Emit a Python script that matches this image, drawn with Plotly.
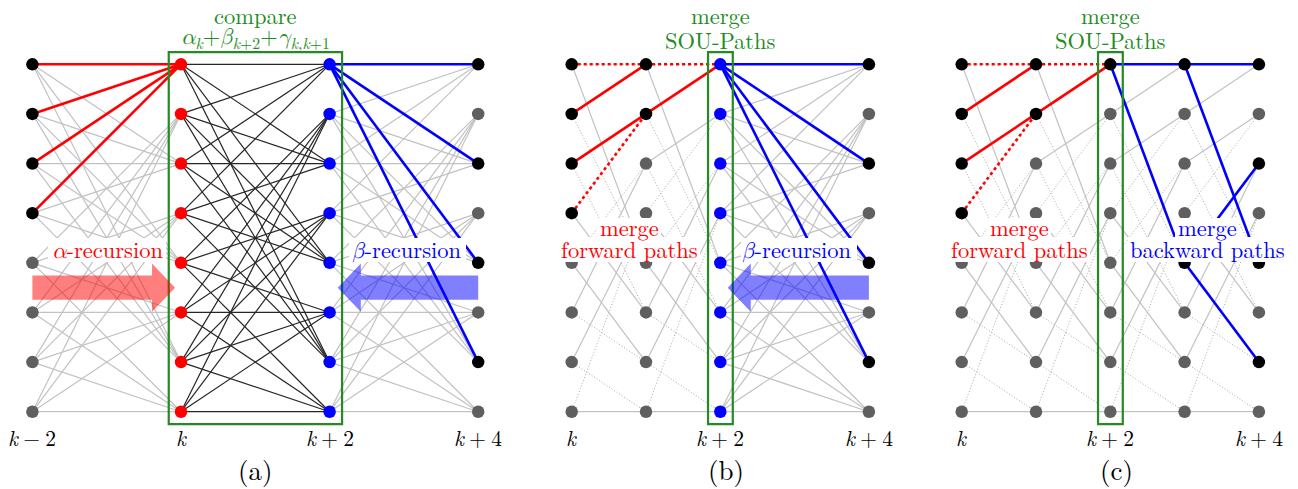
import plotly.graph_objects as go

# ---------------------------------------------------------------- data
STATES = list(range(8))
# 8-state recursive trellis: NEXT_STATE[s] = [next state for input 0, for input 1]
NEXT_STATE = [[0, 4], [4, 0], [5, 1], [1, 5], [2, 6], [6, 2], [7, 3], [3, 7]]

PANELS = ["a", "b", "c"]
COLUMNS = {"a": [-2, 0, 2, 4], "b": [0, 1, 2, 4], "c": [0, 1, 2, 3, 4]}
DARK_SECTIONS = {"a": [(0, 2)], "b": [], "c": []}
LABELED_COLUMNS = {"a": [-2, 0, 2, 4], "b": [0, 2, 4], "c": [0, 2, 4]}
MS = "\u2005"  # medium math space
COLUMN_LABELS = {-2: f"<i>k</i>{MS}−{MS}2", 0: "<i>k</i>",
                 2: f"<i>k</i>{MS}+{MS}2", 4: f"<i>k</i>{MS}+{MS}4"}
PANEL_TITLES = {"a": "(a)", "b": "(b)", "c": "(c)"}

BLACK_NODES = {
    "a": {-2: [0, 1, 2, 3], 4: [0, 2, 4, 6]},
    "b": {0: [0, 1, 2, 3], 1: [0, 1], 4: [0, 2, 4, 6]},
    "c": {0: [0, 1, 2, 3], 1: [0, 1], 2: [0], 3: [0, 4], 4: [0, 2, 4, 6]},
}
RED_NODE_COLUMNS = {"a": [0], "b": [], "c": []}
BLUE_NODE_COLUMNS = {"a": [2], "b": [2], "c": []}

# highlighted branches (t_from, s_from, t_to, s_to)
FWD_SURVIVORS = [(0, 1, 1, 0), (0, 2, 1, 1), (1, 1, 2, 0)]
FWD_DISCARDED = [(0, 0, 1, 0), (1, 0, 2, 0), (0, 3, 1, 1)]
RED_SOLID = {"a": [(-2, 0, 0, 0), (-2, 1, 0, 0), (-2, 2, 0, 0), (-2, 3, 0, 0)],
             "b": FWD_SURVIVORS, "c": FWD_SURVIVORS}
RED_DOTTED = {"a": [], "b": FWD_DISCARDED, "c": FWD_DISCARDED}
BETA_BRANCHES = [(2, 0, 4, 0), (2, 0, 4, 2), (2, 0, 4, 4), (2, 0, 4, 6)]
BLUE_SOLID = {"a": BETA_BRANCHES, "b": BETA_BRANCHES,
              "c": [(2, 0, 3, 0), (2, 0, 3, 4), (3, 0, 4, 0), (3, 0, 4, 4), (3, 4, 4, 2), (3, 4, 4, 6)]}

GREEN_BOX_COLUMNS = {"a": (0, 2), "b": (2, 2), "c": (2, 2)}
GREEN_CAPTIONS = {
    "a": ["compare",
          "<i>α</i><sub><i>k</i></sub>+<i>β</i><sub><i>k</i>+2</sub>+<i>γ</i><sub><i>k</i>,<i>k</i>+1</sub>"],
    "b": ["merge", "SOU-Paths"],
    "c": ["merge", "SOU-Paths"],
}
# recursion arrows: (panel, colour, tail column, tip column)
ARROWS = [("a", "red", -2, -0.08), ("a", "blue", 4, 2.11), ("b", "blue", 4, 2.10)]

# ---------------------------------------------------------------- layout constants
OFF = 8                      # page margin of the browser body
WF, HF = 1298 - OFF, 489 - OFF
SX, SY = 74.3, 49.63         # px per trellis step / per state
Y0 = 64.3                    # reference px of state 0
DOMAIN_PX = {"a": (8, 510), "b": (510, 905), "c": (905, 1298)}
K_PX = {"a": 181.0, "b": 571.7, "c": 961.7}
AX = {"a": "", "b": "2", "c": "3"}

GRAY_NODE = "#5f5f5f"
GRAY_LINE = "#c2c2c2"
DOT_LINE = "#a8a8a8"
DARK_LINE = "#262626"
RED, BLUE, GREEN = "#ff0000", "#0000ff", "#228b22"
FONT = "Latin Modern Roman, Latin Modern Math, DejaVu Serif"
FS = 22.5


def fx(X):
    return (X - OFF) / WF


def fy(Y):
    return 1 - (Y - OFF) / HF


def py2y(Y):
    return (Y - Y0) / SY


def branches(t0, t1):
    out = []
    if t1 - t0 == 1:
        for s in STATES:
            for u in (0, 1):
                out.append((s, NEXT_STATE[s][u], u == 1))
    else:
        for s in STATES:
            for u1 in (0, 1):
                for u2 in (0, 1):
                    out.append((s, NEXT_STATE[NEXT_STATE[s][u1]][u2], True))
    return out


def seg_xy(segs):
    xs, ys = [], []
    for (t0, s0, t1, s1) in segs:
        xs += [t0, t1, None]
        ys += [s0, s1, None]
    return xs, ys


fig = go.Figure()
shapes, annotations = [], []

for p in PANELS:
    xa, ya = "x" + AX[p], "y" + AX[p]
    gray_solid, gray_dot, dark = [], [], []
    cols = COLUMNS[p]
    for t0, t1 in zip(cols[:-1], cols[1:]):
        for s0, s1, solid in branches(t0, t1):
            seg = (t0, s0, t1, s1)
            if (t0, t1) in DARK_SECTIONS[p]:
                dark.append(seg)
            elif solid:
                gray_solid.append(seg)
            else:
                gray_dot.append(seg)
    for segs, color, width, dash in [
        (gray_dot, DOT_LINE, 1.0, "1px,2px"),
        (gray_solid, GRAY_LINE, 1.2, "solid"),
        (dark, DARK_LINE, 1.2, "solid"),
        (RED_DOTTED[p], RED, 2.6, "dot"),
        (RED_SOLID[p], RED, 2.6, "solid"),
        (BLUE_SOLID[p], BLUE, 2.6, "solid"),
    ]:
        if not segs:
            continue
        xs, ys = seg_xy(segs)
        fig.add_trace(go.Scatter(x=xs, y=ys, mode="lines", xaxis=xa, yaxis=ya,
                                 line=dict(color=color, width=width, dash=dash),
                                 hoverinfo="skip", showlegend=False))
    nx, ny, nc = [], [], []
    for t in cols:
        for s in STATES:
            if t in RED_NODE_COLUMNS[p]:
                c = RED
            elif t in BLUE_NODE_COLUMNS[p]:
                c = BLUE
            elif s in BLACK_NODES[p].get(t, []):
                c = "#000000"
            else:
                c = GRAY_NODE
            nx.append(t)
            ny.append(s)
            nc.append(c)
    fig.add_trace(go.Scatter(x=nx, y=ny, mode="markers", xaxis=xa, yaxis=ya,
                             marker=dict(size=12.5, color=nc, line=dict(width=0)),
                             hoverinfo="skip", showlegend=False))

    # green comparison box and captions
    g0, g1 = GREEN_BOX_COLUMNS[p]
    shapes.append(dict(type="rect", xref=xa, yref=ya, x0=g0 - 0.165, x1=g1 + 0.168,
                       y0=-0.245, y1=7.25, line=dict(color=GREEN, width=2.2),
                       fillcolor="rgba(0,0,0,0)", layer="above"))
    gx = (g0 + g1) / 2
    for i, txt in enumerate(GREEN_CAPTIONS[p]):
        yc = 15 + 25 * i - (3 if (p == "a" and i == 1) else 0)
        annotations.append(dict(xref=xa, yref="paper", x=gx, y=fy(yc),
                                text=txt, showarrow=False, xanchor="center", yanchor="middle",
                                font=dict(family=FONT, size=FS, color=GREEN)))
    for t in LABELED_COLUMNS[p]:
        annotations.append(dict(xref=xa, yref="paper", x=t, y=fy(437),
                                text=COLUMN_LABELS[t], showarrow=False,
                                xanchor="center", yanchor="middle",
                                font=dict(family=FONT, size=21.5, color="#000")))
    annotations.append(dict(xref=xa, yref="paper", x=1 if p == "a" else 2.08, y=fy(469),
                            text=PANEL_TITLES[p], showarrow=False,
                            xanchor="center", yanchor="middle",
                            font=dict(family=FONT, size=27, color="#000")))

# recursion arrows
for p, col, tail, tip in ARROWS:
    xa, ya = "x" + AX[p], "y" + AX[p]
    d = 1 if tip > tail else -1
    base = tip - d * 0.31
    yc, hs, hh = 4.5, 0.242, 0.484
    path = (f"M {tail},{yc - hs} L {base},{yc - hs} L {base},{yc - hh} L {tip},{yc} "
            f"L {base},{yc + hh} L {base},{yc + hs} L {tail},{yc + hs} Z")
    fill = "rgba(255,0,0,0.5)" if col == "red" else "rgba(0,0,255,0.5)"
    shapes.append(dict(type="path", xref=xa, yref=ya, path=path, fillcolor=fill,
                       line=dict(width=0), layer="above"))

# white label backgrounds (reference px boxes) and labels
LABEL_BOXES = [  # x0, x1, y0, y1
    (48, 166, 238, 262), (349, 466, 238, 262), (741, 857, 238, 262),
    (597, 661, 218, 237), (558, 700, 237, 262),
    (987, 1051, 218, 237), (948, 1090, 237, 262),
    (1175, 1239, 218, 237), (1128, 1286, 237, 262),
]
for x0, x1, y0, y1 in LABEL_BOXES:
    shapes.append(dict(type="rect", xref="paper", yref="paper", x0=fx(x0), x1=fx(x1),
                       y0=fy(y1), y1=fy(y0), fillcolor="white",
                       line=dict(width=0), layer="above"))

LABELS = [  # text, centre x, centre y, colour
    ("<i>α</i>-recursion", 107, 249, RED),
    ("<i>β</i>-recursion", 407, 249, BLUE),
    ("<i>β</i>-recursion", 797, 249, BLUE),
    ("merge", 629, 227, RED), ("forward paths", 629, 249, RED),
    ("merge", 1019, 227, RED), ("forward paths", 1019, 249, RED),
    ("merge", 1207, 227, BLUE), ("backward paths", 1207, 249, BLUE),
]
for txt, x, y, c in LABELS:
    annotations.append(dict(xref="paper", yref="paper", x=fx(x), y=fy(y), text=txt,
                            showarrow=False, xanchor="center", yanchor="middle",
                            font=dict(family=FONT, size=FS, color=c)))

layout = dict(width=WF, height=HF, margin=dict(l=0, r=0, t=0, b=0),
              paper_bgcolor="white", plot_bgcolor="white", font=dict(family=FONT),
              shapes=shapes, annotations=annotations, showlegend=False)
for p in PANELS:
    d0, d1 = DOMAIN_PX[p]
    k = K_PX[p]
    layout["xaxis" + AX[p]] = dict(domain=[fx(d0), fx(d1)],
                                   range=[-(k - d0) / SX, (d1 - k) / SX],
                                   visible=False, fixedrange=True,
                                   anchor="y" + AX[p])
    layout["yaxis" + AX[p]] = dict(domain=[0, 1], range=[py2y(489), py2y(OFF)],
                                   visible=False, fixedrange=True,
                                   anchor="x" + AX[p])
fig.update_layout(**layout)
fig.write_html("out.html")
